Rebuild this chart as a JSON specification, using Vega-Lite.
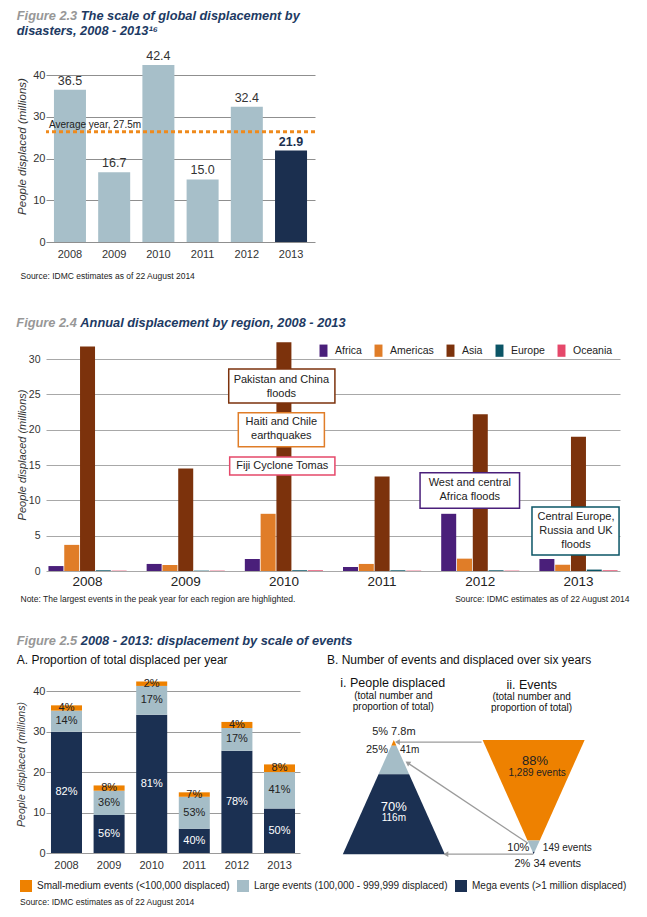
{
"$schema": "https://vega.github.io/schema/vega-lite/v6.json",
"background": "white",
"padding": {"left": 16, "top": 10, "right": 5, "bottom": 5},
"spacing": 32,
"config": {
  "font": "Liberation Sans",
  "view": {"stroke": null},
  "title": {"anchor": "start", "font": "Liberation Sans", "fontSize": 12.8, "fontStyle": "italic", "fontWeight": "bold", "color": "#1d3a63", "lineHeight": 15},
  "axis": {"labelFont": "Liberation Sans", "titleFont": "Liberation Sans", "labelColor": "#333333", "titleColor": "#333333", "gridColor": "#9a9a9a", "ticks": false, "domain": false},
  "legend": {"labelFont": "Liberation Sans", "titleFont": "Liberation Sans", "labelColor": "#222222"}
},
"resolve": {"scale": {"color": "independent", "stroke": "independent"}, "legend": {"color": "independent"}},
"datasets": {
  "fig23": [
    {"year": "2008", "value": 36.5},
    {"year": "2009", "value": 16.7},
    {"year": "2010", "value": 42.4},
    {"year": "2011", "value": 15.0},
    {"year": "2012", "value": 32.4},
    {"year": "2013", "value": 21.9}
  ],
  "fig24": [
    {"year": "2008", "region": "Africa", "value": 0.7},
    {"year": "2008", "region": "Americas", "value": 3.7},
    {"year": "2008", "region": "Asia", "value": 31.8},
    {"year": "2008", "region": "Europe", "value": 0.1},
    {"year": "2008", "region": "Oceania", "value": 0.05},
    {"year": "2009", "region": "Africa", "value": 1.0},
    {"year": "2009", "region": "Americas", "value": 0.85},
    {"year": "2009", "region": "Asia", "value": 14.5},
    {"year": "2009", "region": "Europe", "value": 0.05},
    {"year": "2009", "region": "Oceania", "value": 0.05},
    {"year": "2010", "region": "Africa", "value": 1.7},
    {"year": "2010", "region": "Americas", "value": 8.1},
    {"year": "2010", "region": "Asia", "value": 32.4},
    {"year": "2010", "region": "Europe", "value": 0.1},
    {"year": "2010", "region": "Oceania", "value": 0.1},
    {"year": "2011", "region": "Africa", "value": 0.57},
    {"year": "2011", "region": "Americas", "value": 1.0},
    {"year": "2011", "region": "Asia", "value": 13.4},
    {"year": "2011", "region": "Europe", "value": 0.1},
    {"year": "2011", "region": "Oceania", "value": 0.05},
    {"year": "2012", "region": "Africa", "value": 8.1},
    {"year": "2012", "region": "Americas", "value": 1.75},
    {"year": "2012", "region": "Asia", "value": 22.2},
    {"year": "2012", "region": "Europe", "value": 0.1},
    {"year": "2012", "region": "Oceania", "value": 0.05},
    {"year": "2013", "region": "Africa", "value": 1.7},
    {"year": "2013", "region": "Americas", "value": 0.9},
    {"year": "2013", "region": "Asia", "value": 19.0},
    {"year": "2013", "region": "Europe", "value": 0.2},
    {"year": "2013", "region": "Oceania", "value": 0.1}
  ],
  "notes24": [
    {"label": "Pakistan and China\nfloods", "region": "Asia", "x0": 1.91, "x1": 3.02, "y0": 28.6, "y1": 23.8, "tx": 2.46, "ty": 27.1},
    {"label": "Haiti and Chile\nearthquakes", "region": "Americas", "x0": 2.01, "x1": 2.91, "y0": 22.4, "y1": 17.6, "tx": 2.46, "ty": 21.1},
    {"label": "Fiji Cyclone Tomas", "region": "Oceania", "x0": 1.92, "x1": 3.02, "y0": 16.15, "y1": 13.6, "tx": 2.47, "ty": 14.9},
    {"label": "West and central\nAfrica floods", "region": "Africa", "x0": 3.91, "x1": 4.95, "y0": 13.9, "y1": 8.9, "tx": 4.43, "ty": 12.4},
    {"label": "Central Europe,\nRussia and UK\nfloods", "region": "Europe", "x0": 5.08, "x1": 5.99, "y0": 9.07, "y1": 2.27, "tx": 5.54, "ty": 7.6}
  ],
  "fig25": [
    {"year": "2008", "size": "Mega events (>1 million displaced)", "k": 1, "value": 30.0, "pct": "82%"},
    {"year": "2008", "size": "Large events (100,000 - 999,999 displaced)", "k": 2, "value": 5.2, "pct": "14%"},
    {"year": "2008", "size": "Small-medium events (<100,000 displaced)", "k": 3, "value": 1.3, "pct": "4%"},
    {"year": "2009", "size": "Mega events (>1 million displaced)", "k": 1, "value": 9.4, "pct": "56%"},
    {"year": "2009", "size": "Large events (100,000 - 999,999 displaced)", "k": 2, "value": 6.0, "pct": "36%"},
    {"year": "2009", "size": "Small-medium events (<100,000 displaced)", "k": 3, "value": 1.3, "pct": "8%"},
    {"year": "2010", "size": "Mega events (>1 million displaced)", "k": 1, "value": 34.2, "pct": "81%"},
    {"year": "2010", "size": "Large events (100,000 - 999,999 displaced)", "k": 2, "value": 7.1, "pct": "17%"},
    {"year": "2010", "size": "Small-medium events (<100,000 displaced)", "k": 3, "value": 1.1, "pct": "2%"},
    {"year": "2011", "size": "Mega events (>1 million displaced)", "k": 1, "value": 6.0, "pct": "40%"},
    {"year": "2011", "size": "Large events (100,000 - 999,999 displaced)", "k": 2, "value": 7.9, "pct": "53%"},
    {"year": "2011", "size": "Small-medium events (<100,000 displaced)", "k": 3, "value": 1.1, "pct": "7%"},
    {"year": "2012", "size": "Mega events (>1 million displaced)", "k": 1, "value": 25.3, "pct": "78%"},
    {"year": "2012", "size": "Large events (100,000 - 999,999 displaced)", "k": 2, "value": 5.6, "pct": "17%"},
    {"year": "2012", "size": "Small-medium events (<100,000 displaced)", "k": 3, "value": 1.5, "pct": "4%"},
    {"year": "2013", "size": "Mega events (>1 million displaced)", "k": 1, "value": 11.0, "pct": "50%"},
    {"year": "2013", "size": "Large events (100,000 - 999,999 displaced)", "k": 2, "value": 9.0, "pct": "41%"},
    {"year": "2013", "size": "Small-medium events (<100,000 displaced)", "k": 3, "value": 1.9, "pct": "8%"}
  ],
  "tri": [
    {"tri": "P", "size": "Small-medium events (<100,000 displaced)", "lv": 95, "l": 126, "r": 136},
    {"tri": "P", "size": "Small-medium events (<100,000 displaced)", "lv": 100, "l": 131, "r": 131},
    {"tri": "P", "size": "Large events (100,000 - 999,999 displaced)", "lv": 70, "l": 101, "r": 161},
    {"tri": "P", "size": "Large events (100,000 - 999,999 displaced)", "lv": 95, "l": 126, "r": 136},
    {"tri": "P", "size": "Mega events (>1 million displaced)", "lv": 0, "l": 31, "r": 231},
    {"tri": "P", "size": "Mega events (>1 million displaced)", "lv": 70, "l": 101, "r": 161},
    {"tri": "E", "size": "Small-medium events (<100,000 displaced)", "lv": 12, "l": 393, "r": 417},
    {"tri": "E", "size": "Small-medium events (<100,000 displaced)", "lv": 100, "l": 305, "r": 505},
    {"tri": "E", "size": "Large events (100,000 - 999,999 displaced)", "lv": 2, "l": 403, "r": 407},
    {"tri": "E", "size": "Large events (100,000 - 999,999 displaced)", "lv": 12, "l": 393, "r": 417},
    {"tri": "E", "size": "Mega events (>1 million displaced)", "lv": 0, "l": 405, "r": 405},
    {"tri": "E", "size": "Mega events (>1 million displaced)", "lv": 2, "l": 403, "r": 407}
  ],
  "arrows": [
    {"arrow": 1, "xa": 303, "ya": 98.2, "xb": 138, "yb": 98.2},
    {"arrow": 2, "xa": 394, "ya": 9.5, "xb": 158, "yb": 80},
    {"arrow": 3, "xa": 404, "ya": 0, "xb": 233, "yb": 0}
  ]
},
"vconcat": [
  {
    "spacing": 37,
    "resolve": {"scale": {"color": "independent", "stroke": "independent"}, "legend": {"color": "independent"}},
    "vconcat": [
      {
        "title": {"text": "Figure 2.3", "color": "#979797", "offset": 0, "dy": 12.8},
        "vconcat": [
          {
            "title": {"text": "The scale of global displacement by", "dx": 64, "offset": 2},
            "vconcat": [
              {
                "title": {"text": "disasters, 2008 - 2013¹⁶", "offset": 12},
                "width": 269, "height": 192,
                "layer": [
                  {
                    "data": {"name": "fig23"},
                    "mark": {"type": "bar"},
                    "encoding": {
                      "x": {"field": "year", "type": "nominal", "scale": {"paddingInner": 0.276, "paddingOuter": 0.18},
                            "axis": {"labelAngle": 0, "labelFontSize": 11, "labelPadding": 6, "labelColor": "#333333",
                                     "title": "Source: IDMC estimates as of 22 August 2014", "titleFontSize": 8.5, "titleFontWeight": "normal", "titleColor": "#222222",
                                     "titleX": -26, "titleY": 36, "titleAlign": "left", "titleBaseline": "alphabetic"}},
                      "y": {"field": "value", "type": "quantitative", "title": "People displaced (millions)", "scale": {"domain": [0, 46], "nice": false},
                            "axis": {"values": [0, 10, 20, 30, 40], "titleFontStyle": "italic", "titleFontWeight": "normal", "titleFontSize": 11.5, "titlePadding": 5, "labelFontSize": 11, "labelPadding": 1, "gridColor": "#8f8f8f"}},
                      "color": {"condition": {"test": "datum.year === '2013'", "value": "#1b2f4f"}, "value": "#a7bfc9"}
                    }
                  },
                  {
                    "data": {"name": "fig23"},
                    "transform": [{"filter": "datum.year !== '2013'"}],
                    "mark": {"type": "text", "baseline": "bottom", "dy": -2, "fontSize": 12.5, "color": "#333333"},
                    "encoding": {
                      "x": {"field": "year", "type": "nominal"},
                      "y": {"field": "value", "type": "quantitative", "title": "People displaced (millions)"},
                      "text": {"field": "value", "type": "quantitative", "format": ".1f"}
                    }
                  },
                  {
                    "data": {"name": "fig23"},
                    "transform": [{"filter": "datum.year === '2013'"}],
                    "mark": {"type": "text", "baseline": "bottom", "dy": -2, "fontSize": 12.5, "fontWeight": "bold", "color": "#1b2f4f"},
                    "encoding": {
                      "x": {"field": "year", "type": "nominal"},
                      "y": {"field": "value", "type": "quantitative", "title": "People displaced (millions)"},
                      "text": {"field": "value", "type": "quantitative", "format": ".1f"}
                    }
                  },
                  {
                    "data": {"values": [{"avg": 26.4}]},
                    "mark": {"type": "rule", "color": "#ef8a1c", "strokeWidth": 3, "strokeDash": [4, 3]},
                    "encoding": {"y": {"field": "avg", "type": "quantitative", "title": "People displaced (millions)"}}
                  },
                  {
                    "data": {"values": [{"year": "2008", "avg": 26.4, "label": "Average year, 27.5m"}]},
                    "mark": {"type": "text", "align": "left", "baseline": "bottom", "dx": -5, "dy": -2, "fontSize": 10, "color": "#222222"},
                    "encoding": {
                      "x": {"field": "year", "type": "nominal", "bandPosition": 0},
                      "y": {"field": "avg", "type": "quantitative", "title": "People displaced (millions)"},
                      "text": {"field": "label"}
                    }
                  }
                ]
              }
            ]
          }
        ]
      },
      {
        "title": {"text": "Figure 2.4", "color": "#979797", "offset": 0, "dy": 12.8},
        "resolve": {"scale": {"color": "independent", "stroke": "independent"}, "legend": {"color": "independent"}},
        "vconcat": [
          {
            "title": {"text": "Annual displacement by region, 2008 - 2013", "dx": 64, "offset": 8},
            "width": 574, "height": 233,
            "resolve": {"scale": {"x": "independent"}, "axis": {"x": "independent"}},
            "layer": [
              {
                "data": {"name": "fig24"},
                "mark": {"type": "bar"},
                "encoding": {
                  "x": {"field": "year", "type": "nominal", "scale": {"paddingInner": 0.204, "paddingOuter": 0.025},
                        "axis": {"labelAngle": 0, "labelFontSize": 13.5, "labelColor": "#222222", "labelPadding": 3,
                                 "title": "Note: The largest events in the peak year for each region are highlighted.", "titleFontSize": 8.5, "titleFontWeight": "normal", "titleColor": "#222222",
                                 "titleX": -26, "titleY": 30, "titleAlign": "left", "titleBaseline": "alphabetic"}},
                  "xOffset": {"field": "region", "type": "nominal", "scale": {"paddingInner": 0.05}},
                  "y": {"field": "value", "type": "quantitative", "title": "People displaced (millions)", "scale": {"domain": [0, 33], "nice": false},
                        "axis": {"values": [0, 5, 10, 15, 20, 25, 30], "labelOverlap": false, "titleFontStyle": "italic", "titleFontWeight": "normal", "titleFontSize": 11, "titlePadding": 1, "labelFontSize": 10.5, "labelPadding": 6, "gridColor": "#a8a8a8"}},
                  "color": {"field": "region", "type": "nominal",
                            "scale": {"domain": ["Africa", "Americas", "Asia", "Europe", "Oceania"], "range": ["#4a1f7a", "#e07d28", "#7c320c", "#0b5566", "#e5486a"]},
                            "legend": {"orient": "none", "legendX": 271, "legendY": 6, "direction": "horizontal", "title": null,
                                       "symbolType": "M-0.65,-1H0.65V1H-0.65Z", "symbolSize": 150, "symbolStrokeWidth": 0,
                                       "labelFontSize": 10.5, "labelOffset": 5, "columnPadding": 10}}
                }
              },
              {
                "data": {"name": "notes24"},
                "mark": {"type": "rect", "fill": "white", "strokeWidth": 1.5},
                "encoding": {
                  "x": {"field": "x0", "type": "quantitative", "scale": {"domain": [0, 6], "nice": false, "zero": false},
                        "axis": {"orient": "bottom", "labels": false, "ticks": false, "domain": false, "grid": false,
                                 "title": "Source: IDMC estimates as of 22 August 2014", "titleFontSize": 8.5, "titleFontWeight": "normal", "titleColor": "#222222",
                                 "titleX": 583, "titleY": 30, "titleAlign": "right", "titleBaseline": "alphabetic"}},
                  "x2": {"field": "x1"},
                  "y": {"field": "y0", "type": "quantitative", "title": "People displaced (millions)",
                        "axis": {"values": [0, 5, 10, 15, 20, 25, 30], "labelOverlap": false, "titleFontStyle": "italic", "titleFontWeight": "normal", "titleFontSize": 11, "titlePadding": 1, "labelFontSize": 10.5, "labelPadding": 6, "gridColor": "#a8a8a8"}},
                  "y2": {"field": "y1"},
                  "stroke": {"field": "region", "type": "nominal",
                             "scale": {"domain": ["Africa", "Americas", "Asia", "Europe", "Oceania"], "range": ["#4a1f7a", "#e07d28", "#7c320c", "#0b5566", "#e5486a"]},
                             "legend": null}
                }
              },
              {
                "data": {"name": "notes24"},
                "mark": {"type": "text", "lineBreak": "\n", "fontSize": 11, "lineHeight": 14, "color": "#222222", "baseline": "middle"},
                "encoding": {
                  "x": {"field": "tx", "type": "quantitative", "scale": {"domain": [0, 6], "nice": false, "zero": false}, "axis": null},
                  "y": {"field": "ty", "type": "quantitative", "title": "People displaced (millions)",
                        "axis": {"values": [0, 5, 10, 15, 20, 25, 30], "labelOverlap": false, "titleFontStyle": "italic", "titleFontWeight": "normal", "titleFontSize": 11, "titlePadding": 1, "labelFontSize": 10.5, "labelPadding": 6, "gridColor": "#a8a8a8"}},
                  "text": {"field": "label"}
                }
              }
            ]
          }
        ]
      }
    ]
  },
  {
    "title": {"text": "Figure 2.5", "color": "#979797", "offset": 0, "dy": 12.8},
    "resolve": {"scale": {"color": "independent"}, "legend": {"color": "independent"}},
    "vconcat": [
      {
        "title": {"text": "2008 - 2013: displacement by scale of events", "dx": 64, "offset": 6},
        "spacing": 27,
        "hconcat": [
          {
            "title": {"text": "A. Proportion of total displaced per year", "fontSize": 12, "fontStyle": "normal", "fontWeight": "normal", "color": "#111111", "offset": 8},
            "width": 254, "height": 178,
            "data": {"name": "fig25"},
            "layer": [
              {
                "mark": {"type": "bar"},
                "encoding": {
                  "x": {"field": "year", "type": "nominal", "title": null, "scale": {"paddingInner": 0.272, "paddingOuter": 0.117},
                        "axis": {"labelAngle": 0, "labelFontSize": 11, "labelPadding": 6, "labelColor": "#333333"}},
                  "y": {"field": "value", "type": "quantitative", "stack": "zero", "title": "People displaced (millions)", "scale": {"domain": [0, 44], "nice": false},
                        "axis": {"values": [0, 10, 20, 30, 40], "titleFontStyle": "italic", "titleFontWeight": "normal", "titleFontSize": 10.5, "titlePadding": 6, "labelFontSize": 11, "labelPadding": 1, "gridColor": "#9a9a9a"}},
                  "color": {"field": "size", "type": "nominal",
                            "scale": {"domain": ["Small-medium events (<100,000 displaced)", "Large events (100,000 - 999,999 displaced)", "Mega events (>1 million displaced)"], "range": ["#ee8100", "#a5bdc7", "#1b3052"]},
                            "legend": {"orient": "none", "legendX": -26, "legendY": 205, "direction": "horizontal", "columns": 3,
                                       "title": "Source: IDMC estimates as of 22 August 2014", "titleOrient": "bottom", "titleAnchor": "start",
                                       "titleFontSize": 8.5, "titleFontWeight": "normal", "titleColor": "#222222", "titlePadding": 6,
                                       "symbolType": "square", "symbolSize": 144, "symbolStrokeWidth": 0,
                                       "labelFontSize": 10, "labelLimit": 320, "labelOffset": 5, "columnPadding": 7}},
                  "order": {"field": "k", "type": "quantitative"}
                }
              },
              {
                "mark": {"type": "text", "fontSize": 11, "baseline": "middle"},
                "encoding": {
                  "x": {"field": "year", "type": "nominal", "title": null},
                  "y": {"field": "value", "type": "quantitative", "stack": "zero", "bandPosition": 0.5, "title": "People displaced (millions)"},
                  "detail": {"field": "size"},
                  "order": {"field": "k", "type": "quantitative"},
                  "text": {"field": "pct"},
                  "color": {"condition": {"test": "datum.k === 1", "value": "white"}, "value": "#222222"}
                }
              }
            ]
          },
          {
            "title": {"text": "B. Number of events and displaced over six years", "fontSize": 12, "fontStyle": "normal", "fontWeight": "normal", "color": "#111111", "offset": 8},
            "width": 300, "height": 178,
            "layer": [
              {
                "data": {"name": "tri"},
                "mark": {"type": "area", "orient": "horizontal"},
                "encoding": {
                  "y": {"field": "lv", "type": "quantitative", "scale": {"domain": [1, 157], "nice": false, "zero": false}, "axis": null},
                  "x": {"field": "l", "type": "quantitative", "stack": null, "scale": {"domain": [0, 588], "nice": false, "zero": false}, "axis": null},
                  "x2": {"field": "r"},
                  "detail": {"field": "tri"},
                  "color": {"field": "size", "type": "nominal",
                            "scale": {"domain": ["Small-medium events (<100,000 displaced)", "Large events (100,000 - 999,999 displaced)", "Mega events (>1 million displaced)"], "range": ["#ee8100", "#a5bdc7", "#1b3052"]},
                            "legend": {"orient": "none", "legendX": -26, "legendY": 205, "direction": "horizontal", "columns": 3,
                                       "title": "Source: IDMC estimates as of 22 August 2014", "titleOrient": "bottom", "titleAnchor": "start",
                                       "titleFontSize": 8.5, "titleFontWeight": "normal", "titleColor": "#222222", "titlePadding": 6,
                                       "symbolType": "square", "symbolSize": 144, "symbolStrokeWidth": 0,
                                       "labelFontSize": 10, "labelLimit": 320, "labelOffset": 5, "columnPadding": 7}}
                }
              },
              {
                "data": {"name": "arrows"},
                "mark": {"type": "rule", "color": "#9b9b9b", "strokeWidth": 1.3},
                "encoding": {
                  "x": {"field": "xa", "type": "quantitative"},
                  "y": {"field": "ya", "type": "quantitative"},
                  "x2": {"field": "xb"},
                  "y2": {"field": "yb"}
                }
              },
              {
                "data": {"name": "arrows"},
                "mark": {"type": "point", "shape": "triangle-left", "filled": true, "size": 32, "color": "#9b9b9b", "opacity": 1},
                "encoding": {
                  "x": {"field": "xb", "type": "quantitative"},
                  "y": {"field": "yb", "type": "quantitative"},
                  "angle": {"condition": {"test": "datum.arrow === 2", "value": 33.7}, "value": 0}
                }
              },
              {
                "data": {"values": [{"t": "5% 7.8m", "x": 131, "y": 106.7}, {"t": "2% 34 events", "x": 432.7, "y": -8.3}]},
                "mark": {"type": "text", "fontSize": 11, "color": "#222222", "baseline": "middle"},
                "encoding": {"x": {"field": "x", "type": "quantitative"}, "y": {"field": "y", "type": "quantitative"}, "text": {"field": "t"}}
              },
              {
                "data": {"values": [{"t": "25%", "x": 119.6, "y": 91.0}, {"t": "10%", "x": 396.7, "y": 5.3}]},
                "mark": {"type": "text", "fontSize": 11, "color": "#222222", "baseline": "middle", "align": "right"},
                "encoding": {"x": {"field": "x", "type": "quantitative"}, "y": {"field": "y", "type": "quantitative"}, "text": {"field": "t"}}
              },
              {
                "data": {"values": [{"t": "41m", "x": 143, "y": 91.0}, {"t": "149 events", "x": 423, "y": 5.3}]},
                "mark": {"type": "text", "fontSize": 10, "color": "#222222", "baseline": "middle", "align": "left"},
                "encoding": {"x": {"field": "x", "type": "quantitative"}, "y": {"field": "y", "type": "quantitative"}, "text": {"field": "t"}}
              },
              {
                "data": {"values": [{"t": "70%", "x": 131, "y": 41.3}]},
                "mark": {"type": "text", "fontSize": 13, "color": "white", "baseline": "middle"},
                "encoding": {"x": {"field": "x", "type": "quantitative"}, "y": {"field": "y", "type": "quantitative"}, "text": {"field": "t"}}
              },
              {
                "data": {"values": [{"t": "116m", "x": 131, "y": 31.4}]},
                "mark": {"type": "text", "fontSize": 10, "color": "white", "baseline": "middle"},
                "encoding": {"x": {"field": "x", "type": "quantitative"}, "y": {"field": "y", "type": "quantitative"}, "text": {"field": "t"}}
              },
              {
                "data": {"values": [{"t": "88%", "x": 407.8, "y": 82.0}]},
                "mark": {"type": "text", "fontSize": 13, "color": "#222222", "baseline": "middle"},
                "encoding": {"x": {"field": "x", "type": "quantitative"}, "y": {"field": "y", "type": "quantitative"}, "text": {"field": "t"}}
              },
              {
                "data": {"values": [{"t": "1,289 events", "x": 411.8, "y": 71.0}]},
                "mark": {"type": "text", "fontSize": 10, "color": "#222222", "baseline": "middle"},
                "encoding": {"x": {"field": "x", "type": "quantitative"}, "y": {"field": "y", "type": "quantitative"}, "text": {"field": "t"}}
              },
              {
                "data": {"values": [{"t": "i. People displaced", "x": 128.8, "y": 150.3}, {"t": "ii. Events", "x": 401.3, "y": 148.6}]},
                "mark": {"type": "text", "fontSize": 12.5, "color": "#111111", "baseline": "middle"},
                "encoding": {"x": {"field": "x", "type": "quantitative"}, "y": {"field": "y", "type": "quantitative"}, "text": {"field": "t"}}
              },
              {
                "data": {"values": [{"t": "(total number and\nproportion of total)", "x": 130, "y": 138.9}, {"t": "(total number and\nproportion of total)", "x": 401, "y": 137.7}]},
                "mark": {"type": "text", "fontSize": 10, "lineHeight": 11, "lineBreak": "\n", "color": "#111111", "baseline": "middle"},
                "encoding": {"x": {"field": "x", "type": "quantitative"}, "y": {"field": "y", "type": "quantitative"}, "text": {"field": "t"}}
              }
            ]
          }
        ]
      }
    ]
  }
]
}
